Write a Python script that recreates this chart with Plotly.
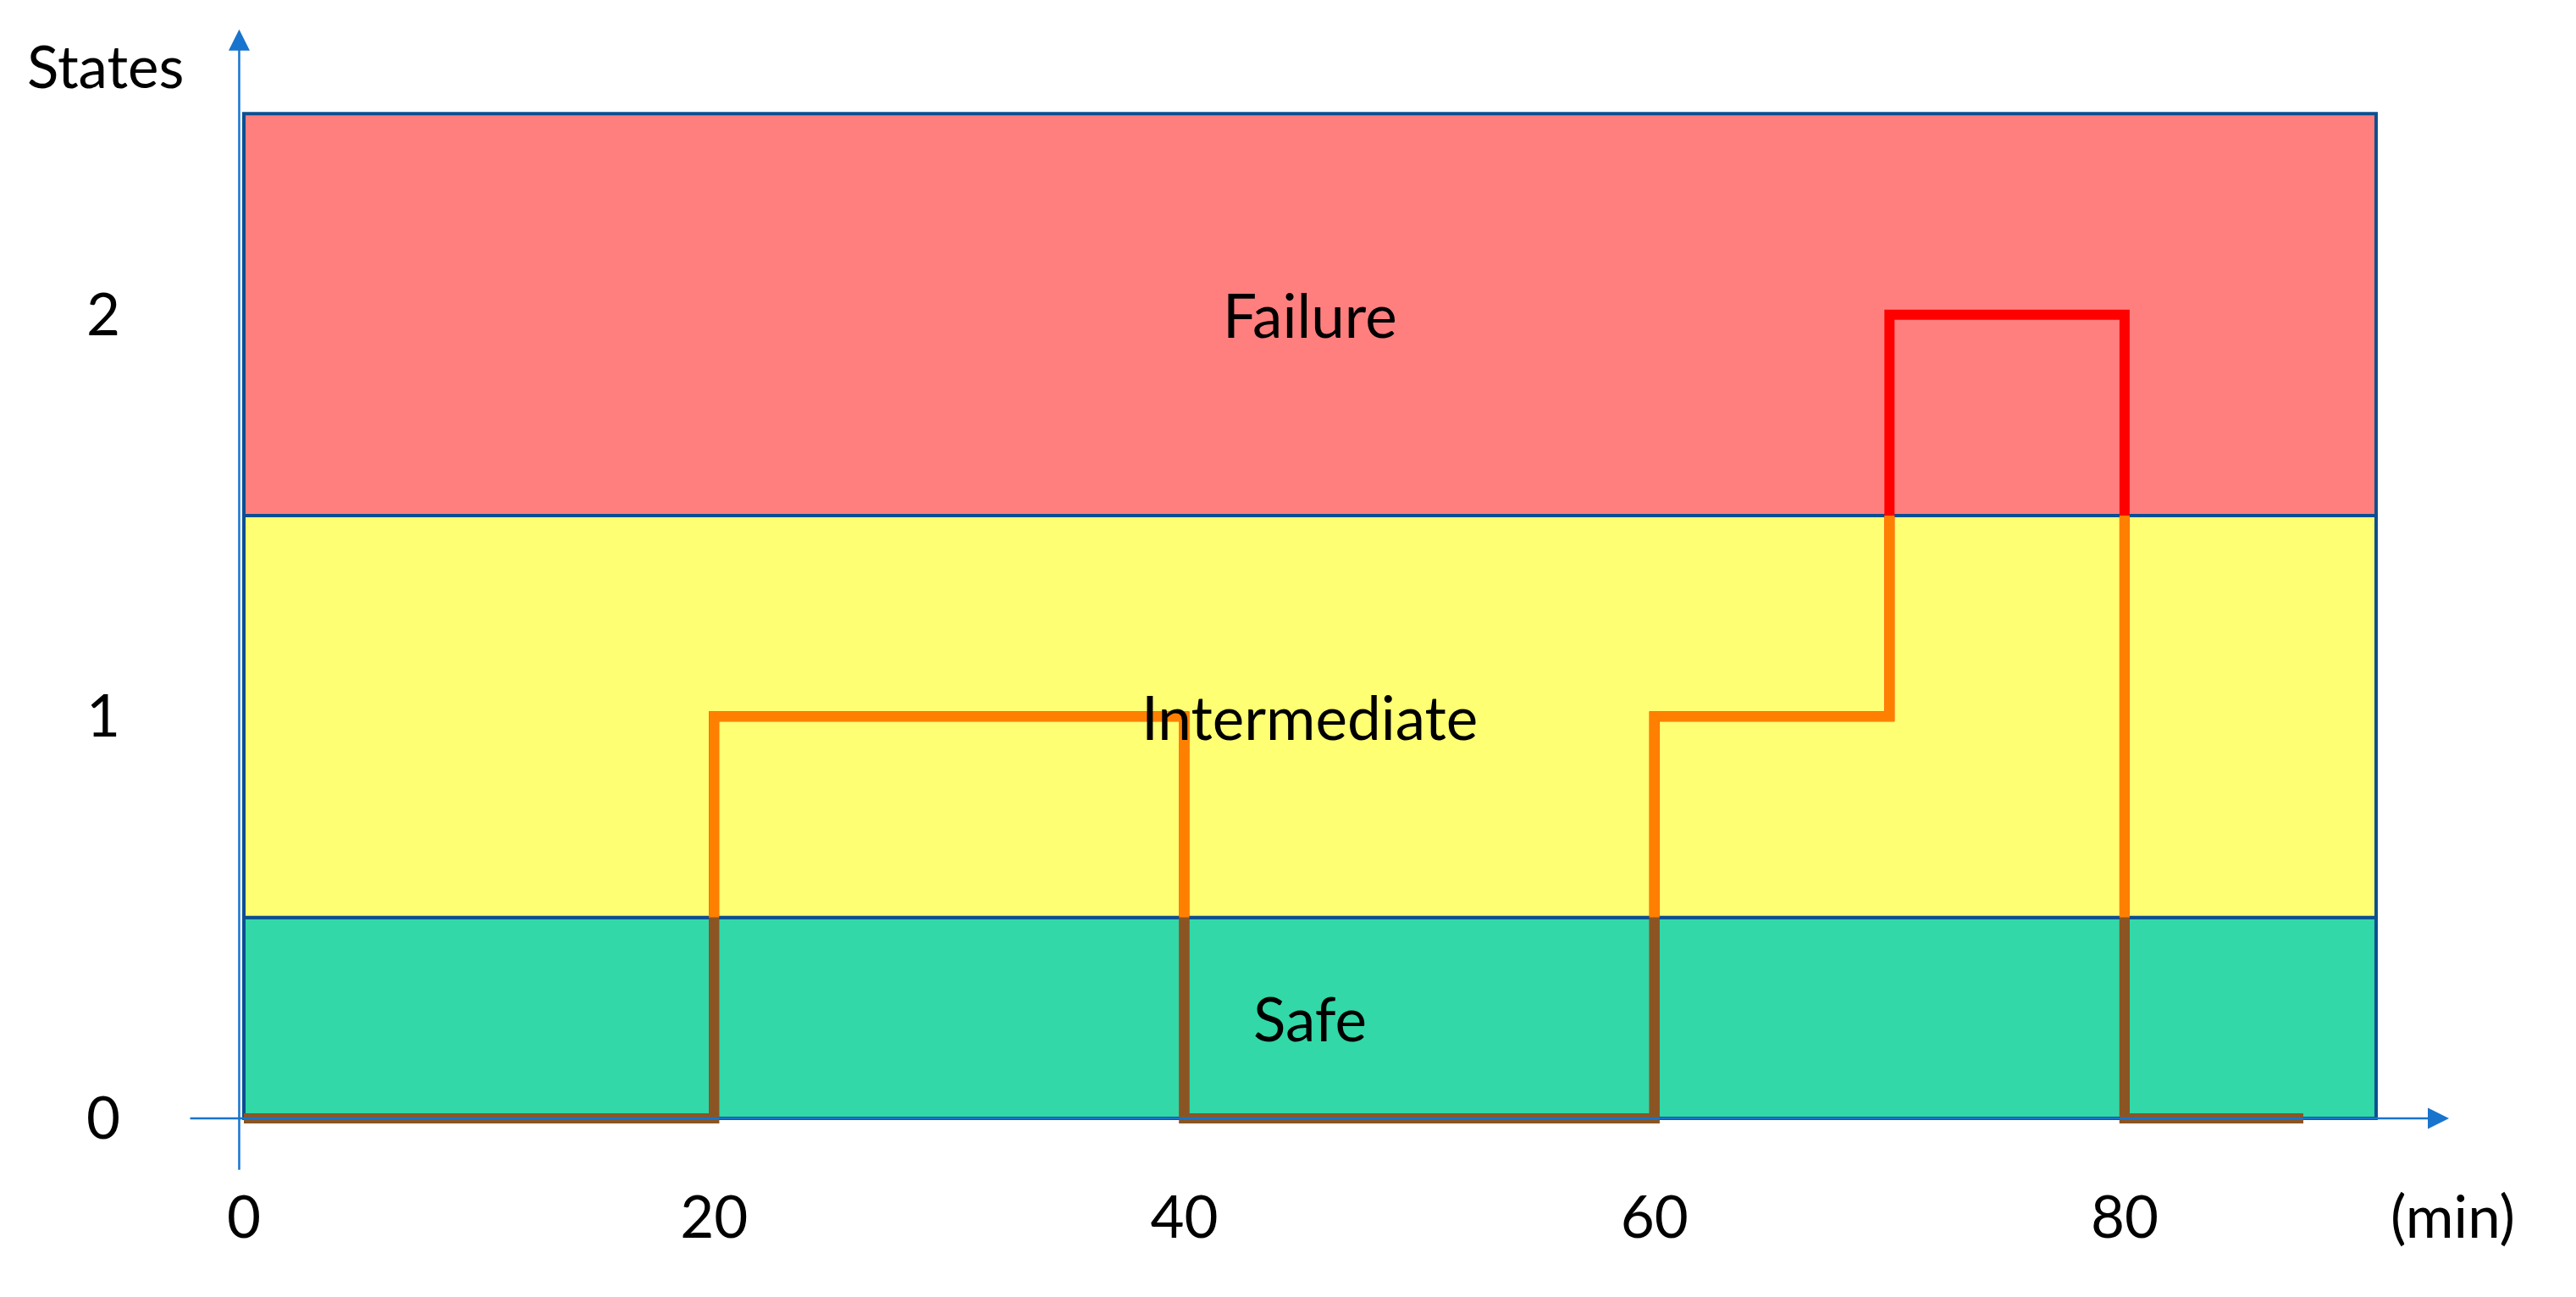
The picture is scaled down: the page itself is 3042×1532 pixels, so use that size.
import plotly.graph_objects as go

# ---- data ----
step_times = [0, 20, 40, 60, 70, 80, 87.6]
step_states = [0, 1, 0, 1, 2, 0, 0]
x_tick_vals = [0, 20, 40, 60, 80]
x_tick_text = ["0", "20", "40", "60", "80"]
y_tick_vals = [0, 1, 2]
y_tick_text = ["0", "1", "2"]
band_names = ["Safe", "Intermediate", "Failure"]
band_low = [0, 0.5, 1.5]
band_high = [0.5, 1.5, 2.5]
band_label_y = [0.25, 1.0, 2.0]
band_colors = ["#32D8A8", "#FFFF73", "#FF7F7F"]
band_x_end = 90.7
line_colors = {"full": "#FF0000", "mid": "#FF8000", "low": "#8B5523"}

FONT = "Lato"
AXIS_BLUE = "#1874CD"
BORDER = "#0B4F91"

# build step path points
px, py = [step_times[0]], [step_states[0]]
for i in range(1, len(step_times)):
    px.append(step_times[i]); py.append(step_states[i - 1])
    if step_states[i] != step_states[i - 1]:
        px.append(step_times[i]); py.append(step_states[i])


def clip_path(lo, hi):
    xs, ys = [], []
    for i in range(len(px) - 1):
        x1, y1, x2, y2 = px[i], py[i], px[i + 1], py[i + 1]
        if y1 == y2:
            if not (lo <= y1 <= hi):
                continue
            s, e = (x1, y1), (x2, y2)
        else:
            a, b = max(min(y1, y2), lo), min(max(y1, y2), hi)
            if b <= a:
                continue
            s, e = ((x1, a), (x2, b)) if y2 > y1 else ((x1, b), (x2, a))
        if xs and xs[-1] is not None and (xs[-1], ys[-1]) == s:
            xs.append(e[0]); ys.append(e[1])
        else:
            if xs:
                xs.append(None); ys.append(None)
            xs += [s[0], e[0]]; ys += [s[1], e[1]]
    return xs, ys


fig = go.Figure()

# bands
for lo, hi, col in zip(band_low, band_high, band_colors):
    fig.add_shape(type="rect", x0=0, x1=band_x_end, y0=lo, y1=hi,
                  fillcolor=col, line=dict(color=BORDER, width=4), layer="below")

# step lines
fig.add_trace(go.Scatter(x=px, y=py, mode="lines",
                         line=dict(color=line_colors["full"], width=12), hoverinfo="skip"))
mx, my = clip_path(0.5, 1.5)
fig.add_trace(go.Scatter(x=mx, y=my, mode="lines",
                         line=dict(color=line_colors["mid"], width=12), hoverinfo="skip"))
lx, ly = clip_path(0, 0.5)
fig.add_trace(go.Scatter(x=lx, y=ly, mode="lines",
                         line=dict(color=line_colors["low"], width=12), hoverinfo="skip"))

# band labels
for name, yy in zip(band_names, band_label_y):
    fig.add_annotation(x=band_x_end / 2, y=yy, text=name, showarrow=False,
                       font=dict(family=FONT, size=71, color="black"))

# axis arrows
fig.add_annotation(x=-0.2, y=2.71, ax=-0.2, ay=-0.131, xref="x", yref="y", axref="x", ayref="y",
                   text="", showarrow=True, arrowhead=2, arrowsize=2, arrowwidth=2.5,
                   arrowcolor=AXIS_BLUE)
fig.add_annotation(x=93.8, y=0, ax=-2.34, ay=0, xref="x", yref="y", axref="x", ayref="y",
                   text="", showarrow=True, arrowhead=2, arrowsize=2, arrowwidth=2.5,
                   arrowcolor=AXIS_BLUE)

fig.add_annotation(x=-0.02679, y=0.9508, xref="paper", yref="paper", text="States",
                   xanchor="center", yanchor="middle",
                   showarrow=False, font=dict(family=FONT, size=69, color="black"))
fig.add_annotation(x=0.9632, y=-0.0318, xref="paper", yref="paper", text="(min)",
                   xanchor="center", yanchor="middle",
                   showarrow=False, font=dict(family=FONT, size=69, color="black"))

fig.update_layout(
    width=3042, height=1532,
    margin=dict(l=192, r=50, t=2, b=148, autoexpand=False),
    paper_bgcolor="white", plot_bgcolor="white",
    showlegend=False,
    xaxis=dict(range=[-3.17, 97.69], tickvals=x_tick_vals, ticktext=x_tick_text,
               showgrid=False, zeroline=False, showline=False, ticks="", automargin=False,
               tickfont=dict(family=FONT, size=69, color="black"), ticklabelstandoff=0),
    yaxis=dict(range=[-0.1496, 2.762], tickvals=y_tick_vals, ticktext=y_tick_text,
               showgrid=False, zeroline=False, showline=False, ticks="", automargin=False,
               tickfont=dict(family=FONT, size=69, color="black"), ticklabelstandoff=57),
)

fig.write_html("out.html")
